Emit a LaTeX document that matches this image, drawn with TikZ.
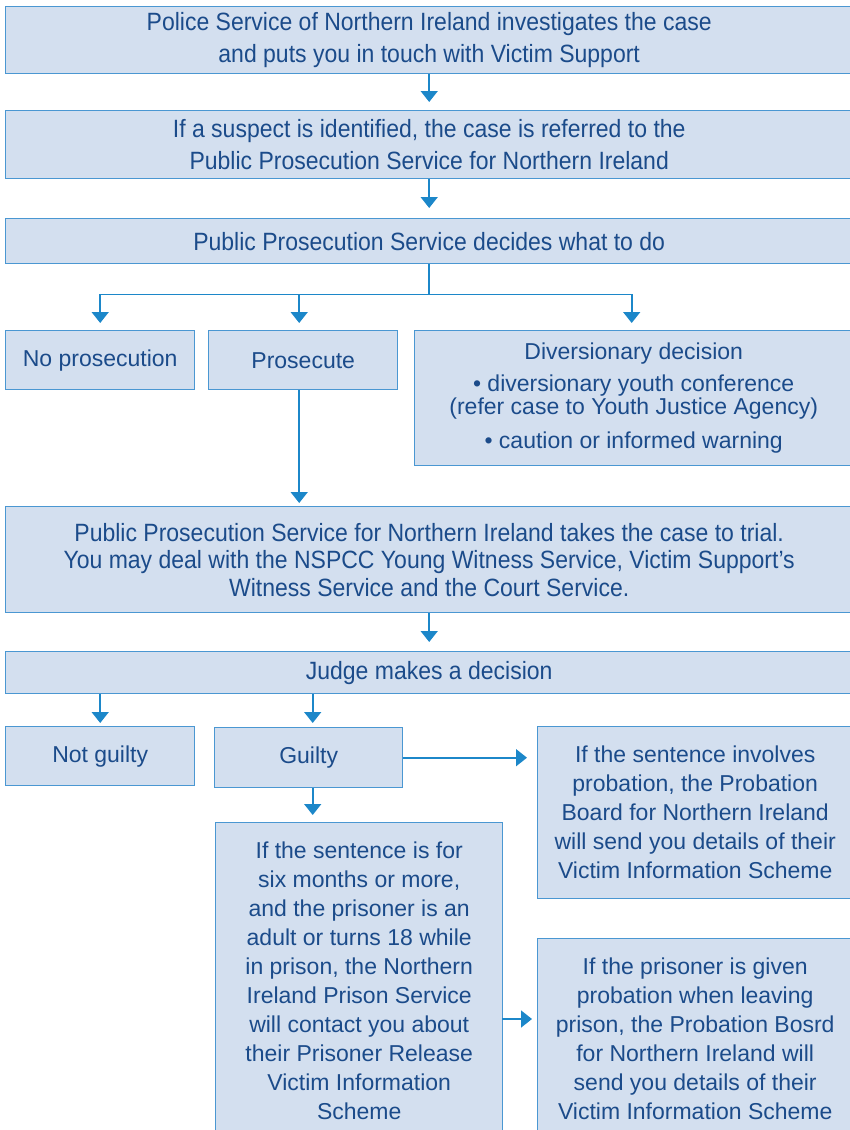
\documentclass[tikz,border=0pt]{standalone}
\usepackage{fontspec}
\setmainfont{Liberation Sans}
\newfontfamily\narrowsans[FakeStretch=0.92]{Liberation Sans}
\usetikzlibrary{arrows.meta, calc, positioning}
\definecolor{boxfill}{HTML}{D3DFEF}
\definecolor{boxline}{HTML}{4A97D2}
\definecolor{arrowblue}{HTML}{1C87C9}
\definecolor{textblue}{HTML}{1B4B8A}
\tikzset{
  box/.style = {draw = boxline, fill = boxfill, line width = 1.4pt, inner sep = 0pt,
                anchor = north west, align = center, text = textblue,
                font = \fontsize{23}{29}\selectfont},
  widebox/.style = {box, font = \narrowsans\fontsize{25}{32}\selectfont},
  link/.style = {draw = arrowblue, line width = 1.6pt},
  arr/.style = {link, -{Triangle[width=17pt, length=11pt]}}
}

\begin{document}
\begin{tikzpicture}[x = 1pt, y = -1pt]
        \useasboundingbox (0,0) rectangle (849,1130);
        % boxes
        \node[widebox, minimum width = 847, minimum height = 67] (police) at (5,6)
          {Police Service of Northern Ireland investigates the case\\and puts you in touch with Victim Support};
        \node[widebox, minimum width = 847, minimum height = 68] (suspect) at (5,110)
          {If a suspect is identified, the case is referred to the\\Public Prosecution Service for Northern Ireland};
        \node[widebox, minimum width = 847, minimum height = 45] (decides) at (5,218)
          {Public Prosecution Service decides what to do};
        \node[box, minimum width = 189, minimum height = 59] (noprose) at (5,330) {No prosecution};
        \node[box, minimum width = 189, minimum height = 59] (prosecute) at (208,330) {Prosecute};
        \node[box, minimum width = 438, minimum height = 135] (diversion) at (414,330)
          {Diversionary decision\\[3pt] • diversionary youth conference\\[-6pt](refer case to Youth Justice Agency)\\[5pt] • caution or informed warning};
        \node[widebox, font = \narrowsans\fontsize{25}{27.5}\selectfont, minimum width = 847, minimum height = 106] (trial) at (5,506)
          {Public Prosecution Service for Northern Ireland takes the case to trial.\\You may deal with the NSPCC Young Witness Service, Victim Support’s\\Witness Service and the Court Service.};
        \node[widebox, minimum width = 847, minimum height = 42] (judge) at (5,651) {Judge makes a decision};
        \node[box, minimum width = 189, minimum height = 59] (notguilty) at (5,726) {Not guilty};
        \node[box, minimum width = 188, minimum height = 60] (guilty) at (214,727) {Guilty};
        \node[box, minimum width = 315, minimum height = 172] (probation) at (537,726)
          {If the sentence involves\\probation, the Probation\\Board for Northern Ireland\\will send you details of their\\Victim Information Scheme};
        \node[box, minimum width = 287, minimum height = 316] (prisonsvc) at (215,822)
          {If the sentence is for\\six months or more,\\and the prisoner is an\\adult or turns 18 while\\in prison, the Northern\\Ireland Prison Service\\will contact you about\\their Prisoner Release\\Victim Information\\Scheme};
        \node[box, minimum width = 315, minimum height = 200] (release) at (537,938)
          {If the prisoner is given\\probation when leaving\\prison, the Probation Bosrd\\for Northern Ireland will\\send you details of their\\Victim Information Scheme};
        % connectors
        \draw[arr, shorten > = 8pt] (police.south) -- (suspect.north);
        \draw[arr, shorten > = 10pt] (suspect.south) -- (decides.north);
        \draw[link] (decides.south) -- ++(0,30) coordinate (split);
        \draw[arr, shorten > = 7pt] (split) -| (noprose.north);
        \draw[arr, shorten > = 7pt] (split) -| ([xshift=-4pt]prosecute.north);
        \draw[arr, shorten > = 7pt] (split) -| ([xshift=-2pt]diversion.north);
        \draw[arr, shorten > = 3pt] ([xshift=-4pt]prosecute.south) -- ([xshift=-4pt]prosecute.south |- trial.north);
        \draw[arr, shorten > = 9pt] (trial.south) -- (judge.north);
        \draw[arr, shorten > = 3pt] (notguilty.north |- judge.south) -- (notguilty.north);
        \draw[arr, shorten > = 4pt] ([xshift=4pt]guilty.north |- judge.south) -- ([xshift=4pt]guilty.north);
        \draw[arr, shorten > = 10pt] (guilty.east) -- (guilty.east -| probation.west);
        \draw[arr, shorten > = 7pt] ([xshift=4pt]guilty.south) -- ([xshift=4pt]guilty.south |- prisonsvc.north);
        \coordinate (prisonout) at (502,1019);
        \draw[arr, shorten > = 5pt] (prisonout) -- (prisonout -| release.west);
    \end{tikzpicture}
\end{document}
